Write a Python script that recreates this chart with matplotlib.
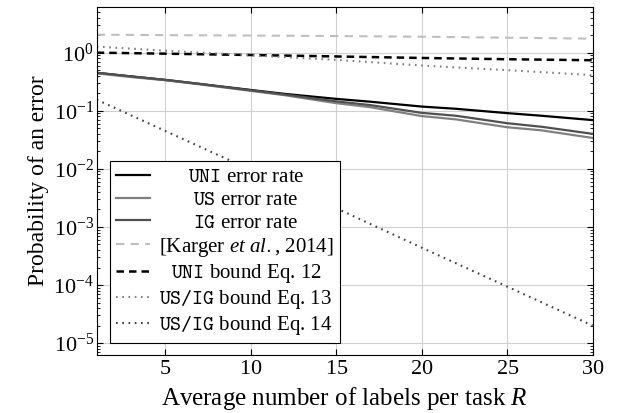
import matplotlib
matplotlib.use("Agg")
import matplotlib.pyplot as plt

plt.rcParams['font.family'] = ['Liberation Serif', 'DejaVu Serif']
plt.rcParams['mathtext.fontset'] = 'custom'
plt.rcParams['mathtext.rm'] = 'cmr10'
plt.rcParams['mathtext.it'] = 'Liberation Serif:italic'
plt.rcParams['mathtext.tt'] = 'cmtt10'
plt.rcParams['mathtext.bf'] = 'cmb10'
plt.rcParams['axes.formatter.use_mathtext'] = True
plt.rcParams['font.size'] = 16

# error rates
R_err = [1, 3, 5, 7, 10, 12, 15, 17, 20, 22, 25, 27, 30]
uni_err = [0.45, 0.39, 0.34, 0.29, 0.228, 0.195, 0.16, 0.143, 0.118, 0.108, 0.091, 0.082, 0.069]
ig_err = [0.45, 0.39, 0.34, 0.29, 0.225, 0.19, 0.145, 0.125, 0.092, 0.082, 0.061, 0.053, 0.040]
us_err = [0.44, 0.38, 0.335, 0.285, 0.22, 0.185, 0.135, 0.115, 0.081, 0.071, 0.052, 0.046, 0.034]

# bounds
R_b = [1, 5, 10, 15, 20, 25, 30]
karger = [2.04, 2.0, 1.97, 1.93, 1.88, 1.81, 1.74]
uni_bound = [1.0, 0.96, 0.91, 0.86, 0.81, 0.77, 0.74]
eq13 = [1.27, 1.08, 0.90, 0.75, 0.60, 0.50, 0.41]
eq14 = [0.155, 0.045, 0.0096, 0.0021, 4.4e-4, 9.4e-5, 2.0e-5]

fig = plt.figure(figsize=(6.2, 4.13), dpi=100)
ax = fig.add_axes([0.156, 0.140, 0.800, 0.844])

ax.plot(R_err, uni_err, color='black', lw=1.6, label=r'$\mathtt{UNI}$ error rate')
ax.plot(R_err, us_err, color='#808080', lw=1.6, label=r'$\mathtt{US}$ error rate')
ax.plot(R_err, ig_err, color='#505050', lw=1.6, label=r'$\mathtt{IG}$ error rate')
ax.plot(R_b, karger, color='#bfbfbf', lw=1.5, ls=(0, (4, 3)),
        label=r'[Karger $et\ al.$, 2014]')
ax.plot(R_b, uni_bound, color='black', lw=1.8, ls=(0, (3, 2)),
        label=r'$\mathtt{UNI}$ bound Eq. 12')
ax.plot(R_b, eq13, color='#808080', lw=1.5, ls=(0, (0.8, 2.2)),
        label=r'$\mathtt{US/IG}$ bound Eq. 13')
ax.plot(R_b, eq14, color='#404040', lw=1.5, ls=(0, (0.8, 2.2)),
        label=r'$\mathtt{US/IG}$ bound Eq. 14')

ax.set_yscale('log')
ax.set_xlim(1, 30)
ax.set_ylim(6.2e-6, 6.2)
ax.set_xticks([5, 10, 15, 20, 25, 30])
ax.set_yticks([1e0, 1e-1, 1e-2, 1e-3, 1e-4, 1e-5])
ax.grid(True, which='major', color='#d0d0d0', lw=0.8)
ax.tick_params(which='both', direction='in', top=True, right=True)
ax.tick_params(which='major', length=4, labelsize=16)
ax.tick_params(axis='y', which='major', pad=2)
ax.tick_params(which='minor', length=2.5)
ax.set_xlabel(r'Average number of labels per task $R$', fontsize=18)
ax.set_ylabel('Probability of an error', fontsize=17, labelpad=3)

leg = ax.legend(loc='lower left', bbox_to_anchor=(0.026, 0.034), fancybox=False,
                edgecolor='black', framealpha=1, handlelength=1.65,
                borderaxespad=0, labelspacing=0.15, fontsize=15,
                borderpad=0.3, handletextpad=0.4)
leg.get_frame().set_linewidth(0.8)

# centre the legend labels like the original
renderer = fig.canvas.get_renderer()
texts = leg.get_texts()
widths = [t.get_window_extent(renderer).width for t in texts]
for t, w in zip(texts, widths):
    t.set_x((max(widths) - w) / 2)

fig.savefig('out.png', dpi=100)
